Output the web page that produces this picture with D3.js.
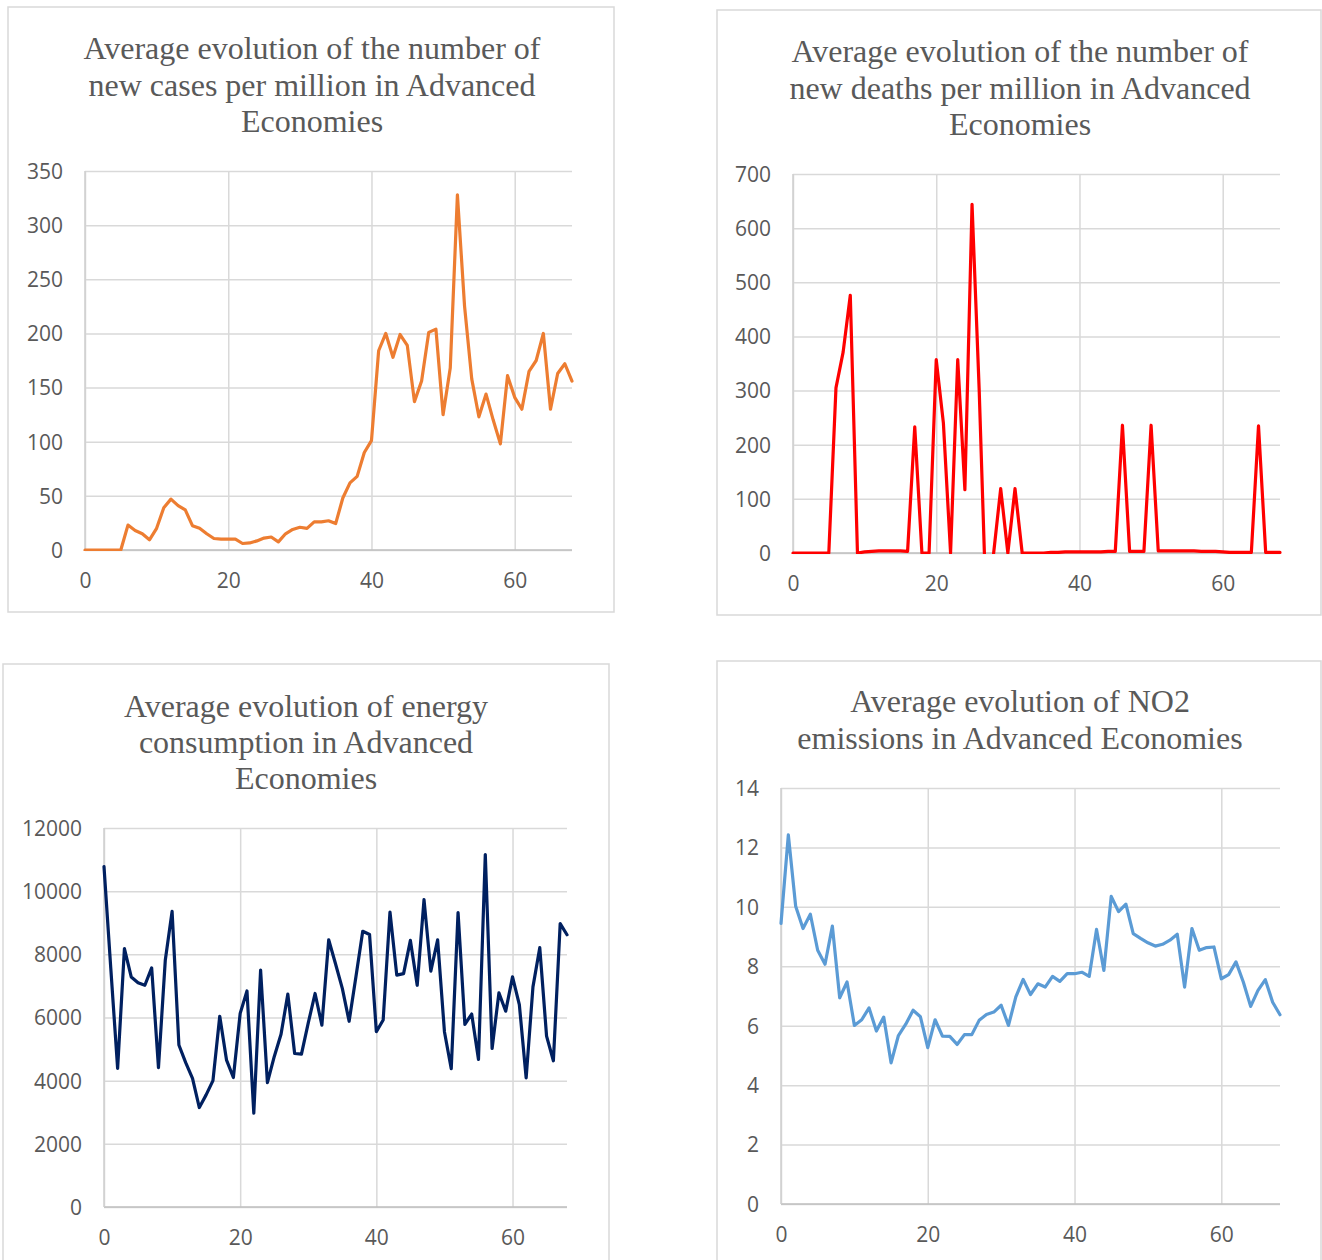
<!DOCTYPE html>
<html>
<head>
<meta charset="utf-8">
<script src="https://cdn.jsdelivr.net/npm/d3@7/dist/d3.min.js"></script>
<style>
  html, body { margin: 0; padding: 0; background: #fff; }
  svg { display: block; }
</style>
</head>
<body>
<svg id="chart" width="1322" height="1260"></svg>
<script>
// ---- Data ----
const xTicks = [0, 20, 40, 60];

const casesTitle = ["Average evolution of the number of", "new cases per million in Advanced", "Economies"];
const casesTicks = [0, 50, 100, 150, 200, 250, 300, 350];
const cases = [0,0,0,0,0,0,23,18,15,9.4,
  20,39,47,41,37,22.5,20,15,10.6,10,
  10,10,6,6.5,8.4,11,12,7.5,15,19,
  21,20,26,26,27,24.4,48,62,68,90,
  101,184,200,178,199,189,137,156,201,204,
  125,168,328,225,158,123,144,120,98,161,
  141,130,165,175,200,130,163,172,156];

const deathsTitle = ["Average evolution of the number of", "new deaths per million in Advanced", "Economies"];
const deathsTicks = [0, 100, 200, 300, 400, 500, 600, 700];
const deaths = [0,0,0,0,0,0,305,371,476,0,
  2,3,4,4,4,4,3,233,0,0,
  357,240,0,357,117,644,300,-115,-2,119,
  0,119,0,0,0,0,1,1,2,2,
  2,2,2,2,3,3,236,3,3,3,
  236,4,4,4,4,4,4,3,3,3,
  2,1,1,1,1,235,1,1,1];

const energyTitle = ["Average evolution of energy", "consumption in Advanced", "Economies"];
const energyTicks = [0, 2000, 4000, 6000, 8000, 10000, 12000];
const energy = [10780,7550,4390,8180,7285,7100,7020,7570,4410,7810,
  9360,5130,4570,4070,3150,3550,4000,6040,4650,4100,
  6130,6840,2970,7500,3940,4760,5470,6740,4860,4840,
  5830,6760,5760,8460,7700,6920,5880,7290,8730,8630,
  5550,5920,9340,7340,7390,8440,7020,9730,7470,8460,
  5550,4380,9320,5780,6110,4670,11160,5020,6780,6200,
  7290,6410,4090,6970,8210,5410,4630,8970,8620];

const no2Title = ["Average evolution of NO2", "emissions in Advanced Economies"];
const no2Ticks = [0, 2, 4, 6, 8, 10, 12, 14];
const no2 = [9.44,12.42,10.02,9.27,9.75,8.54,8.07,9.35,6.94,7.47,
  6.01,6.2,6.6,5.82,6.29,4.75,5.67,6.05,6.52,6.3,
  5.26,6.2,5.65,5.64,5.37,5.7,5.7,6.18,6.38,6.46,
  6.69,6.01,6.97,7.56,7.05,7.41,7.3,7.66,7.49,7.75,
  7.75,7.8,7.66,9.24,7.86,10.35,9.84,10.09,9.1,8.94,
  8.79,8.68,8.74,8.88,9.08,7.3,9.27,8.54,8.63,8.65,
  7.58,7.72,8.15,7.47,6.65,7.19,7.55,6.79,6.37];

// ---- Layout ----
const panels = [
  { id: "c1", frame: [8, 7, 614, 612], plot: [85, 171, 572, 550], titleX: 312, titleY: [59, 95.5, 132],
    title: casesTitle, ticks: casesTicks, data: cases, color: "#ED7D31" },
  { id: "c2", frame: [717, 10, 1321, 615], plot: [793, 174, 1280, 553], titleX: 1020, titleY: [62, 98.5, 135],
    title: deathsTitle, ticks: deathsTicks, data: deaths, color: "#FF0000" },
  { id: "c3", frame: [3, 664, 609, 1275], plot: [104, 828, 567, 1207], titleX: 306, titleY: [717, 753, 789],
    title: energyTitle, ticks: energyTicks, data: energy, color: "#002060" },
  { id: "c4", frame: [717, 661, 1321, 1275], plot: [781, 788, 1280, 1204], titleX: 1020, titleY: [712, 749],
    title: no2Title, ticks: no2Ticks, data: no2, color: "#5B9BD5" }
];

const svg = d3.select("#chart");
const defs = svg.append("defs");

panels.forEach(p => {
  const g = svg.append("g");
  const [fx0, fy0, fx1, fy1] = p.frame;
  g.append("rect").attr("x", fx0).attr("y", fy0)
    .attr("width", fx1 - fx0).attr("height", fy1 - fy0)
    .attr("fill", "#fff").attr("stroke", "#d9d9d9").attr("stroke-width", 1.5);

  const [px0, py0, px1, py1] = p.plot;
  const x = d3.scaleLinear().domain([0, 68]).range([px0, px1]);
  const yMax = p.ticks[p.ticks.length - 1];
  const y = d3.scaleLinear().domain([0, yMax]).range([py1, py0]);

  // title
  const t = g.append("text").attr("text-anchor", "middle")
    .attr("font-family", "'Liberation Serif', 'Times New Roman', serif")
    .attr("font-size", 32).attr("fill", "#595959");
  p.title.forEach((line, i) => {
    t.append("tspan").attr("x", p.titleX).attr("y", p.titleY[i]).text(line);
  });

  // horizontal gridlines
  const yAxis = d3.axisLeft(y).tickValues(p.ticks).tickSize(-(px1 - px0)).tickFormat(d3.format("d"));
  const ya = g.append("g").attr("transform", `translate(${px0},0)`).call(yAxis);
  ya.select(".domain").remove();
  ya.selectAll(".tick line").attr("stroke", "#d9d9d9").attr("stroke-width", 1.5);
  ya.selectAll(".tick text").attr("x", -22).attr("dy", "0.35em")
    .attr("font-family", "'Open Sans', sans-serif").attr("font-size", 21).attr("fill", "#595959");

  // vertical gridlines + x labels
  const xAxis = d3.axisBottom(x).tickValues(xTicks).tickSize(-(py1 - py0)).tickFormat(d3.format("d"));
  const xa = g.append("g").attr("transform", `translate(0,${py1})`).call(xAxis);
  xa.select(".domain").remove();
  xa.selectAll(".tick line").attr("stroke", "#d9d9d9").attr("stroke-width", 1.5);
  xa.selectAll(".tick text").attr("y", 31).attr("dy", "0.35em")
    .attr("font-family", "'Open Sans', sans-serif").attr("font-size", 21).attr("fill", "#595959");

  // axis lines
  g.append("line").attr("x1", px0).attr("x2", px1).attr("y1", py1).attr("y2", py1)
    .attr("stroke", "#bfbfbf").attr("stroke-width", 1.5);
  g.append("line").attr("x1", px0).attr("x2", px0).attr("y1", py0).attr("y2", py1)
    .attr("stroke", "#cfcfcf").attr("stroke-width", 1.5);

  // clip
  defs.append("clipPath").attr("id", "clip-" + p.id)
    .append("rect").attr("x", px0 - 2).attr("y", py0 - 10)
    .attr("width", px1 - px0 + 4).attr("height", py1 - py0 + 10 + 1);

  const line = d3.line().x((d, i) => x(i)).y(d => y(d));
  g.append("path").datum(p.data)
    .attr("clip-path", `url(#clip-${p.id})`)
    .attr("d", line).attr("fill", "none")
    .attr("stroke", p.color).attr("stroke-width", 3.2)
    .attr("stroke-linejoin", "round").attr("stroke-linecap", "round");
});
</script>
</body>
</html>
